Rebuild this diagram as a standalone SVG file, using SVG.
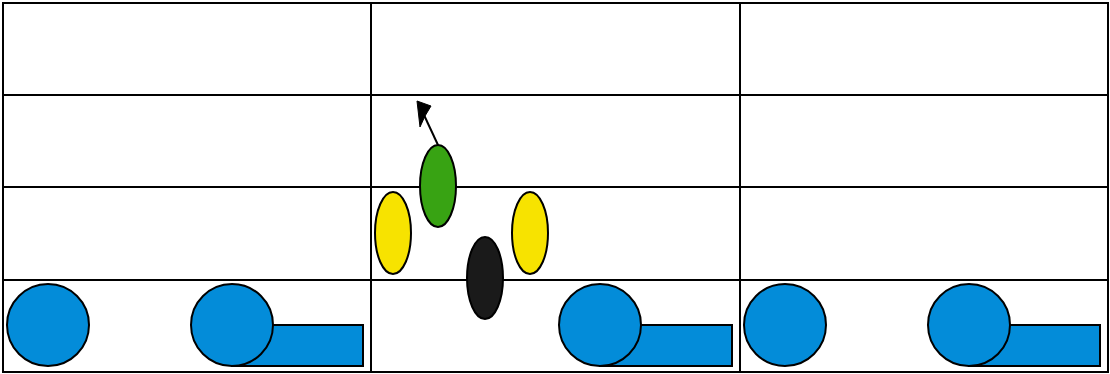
<svg xmlns="http://www.w3.org/2000/svg" width="1110" height="374" viewBox="0 0 1110 374">
<style>
.grid{fill:none;stroke:#000;stroke-width:2}
.blue{fill:#038cd9;stroke:#000;stroke-width:2}
.ell{stroke:#000;stroke-width:2}
</style>
<g id="grid">
<rect class="grid" x="3" y="3" width="1105" height="369"/>
<line class="grid" x1="371" y1="3" x2="371" y2="372"/>
<line class="grid" x1="740" y1="3" x2="740" y2="372"/>
<line class="grid" x1="3" y1="95" x2="1108" y2="95"/>
<line class="grid" x1="3" y1="187" x2="1108" y2="187"/>
<line class="grid" x1="3" y1="280" x2="1108" y2="280"/>
</g>
<g id="cell1">
<circle class="blue" cx="48" cy="325" r="41"/>
<rect class="blue" x="232" y="325" width="131" height="41"/>
<circle class="blue" cx="232" cy="325" r="41"/>
</g>
<g id="cell2">
<rect class="blue" x="600" y="325" width="132" height="41"/>
<circle class="blue" cx="600" cy="325" r="41"/>
</g>
<g id="cell3">
<circle class="blue" cx="785" cy="325" r="41"/>
<rect class="blue" x="969" y="325" width="131" height="41"/>
<circle class="blue" cx="969" cy="325" r="41"/>
</g>
<g id="connectors">
<path d="M438,145 L424,115" fill="none" stroke="#000" stroke-width="2"/>
<path d="M417,101 L431,106 L425,116 L420,127 Z" fill="#000" stroke="#000" stroke-width="1"/>
</g>
<g id="green"><ellipse class="ell" cx="438" cy="186" rx="18" ry="41" fill="#38a313"/></g>
<g id="yellow1"><ellipse class="ell" cx="393" cy="233" rx="18" ry="41" fill="#f7e300"/></g>
<g id="yellow2"><ellipse class="ell" cx="530" cy="233" rx="18" ry="41" fill="#f7e300"/></g>
<g id="black"><ellipse class="ell" cx="485" cy="278" rx="18" ry="41" fill="#1a1a1a"/></g>
</svg>
